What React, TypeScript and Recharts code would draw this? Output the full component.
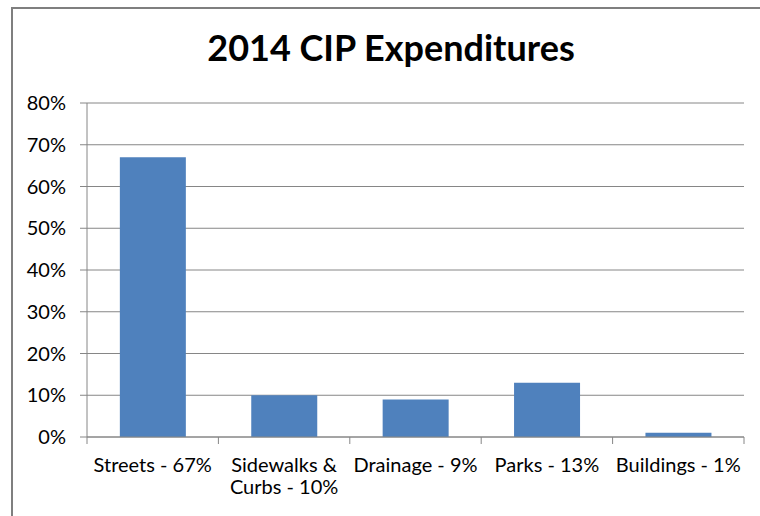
import React from "react";
import { BarChart, Bar, XAxis, YAxis, CartesianGrid } from "recharts";

const categories = [
  "Streets - 67%",
  "Sidewalks & Curbs - 10%",
  "Drainage - 9%",
  "Parks - 13%",
  "Buildings - 1%",
];
const shares = [0.67, 0.1, 0.09, 0.13, 0.01];
const yTicks = [0, 0.1, 0.2, 0.3, 0.4, 0.5, 0.6, 0.7, 0.8];

const data = categories.map((name, i) => ({ name, value: shares[i] }));

const FONT = "Lato, 'Open Sans', sans-serif";
const GRID = "#868686";
const TICK_SIZE = 7;
const TICK_MARGIN = 14;
const LABEL_SIZE = 20;

let ctx: CanvasRenderingContext2D | null = null;
function measure(s: string) {
  if (!ctx) ctx = document.createElement("canvas").getContext("2d");
  if (!ctx) return s.length * LABEL_SIZE * 0.5;
  ctx.font = `${LABEL_SIZE}px ${FONT}`;
  return ctx.measureText(s).width;
}

function wrap(text: string, maxWidth: number) {
  const words = text.split(" ");
  const lines: string[] = [];
  let cur = "";
  for (const w of words) {
    const next = cur ? `${cur} ${w}` : w;
    if (cur && measure(next) > maxWidth) {
      lines.push(cur);
      cur = w;
    } else {
      cur = next;
    }
  }
  if (cur) lines.push(cur);
  return lines;
}

function CategoryTick(props: any) {
  const { x, y, payload, width, visibleTicksCount, index } = props;
  const band = width / visibleTicksCount;
  const axisY = y - TICK_SIZE - TICK_MARGIN;
  const lines = wrap(String(payload.value), band - 4);
  return (
    <g>
      <line x1={x - band / 2} y1={axisY} x2={x - band / 2} y2={axisY + TICK_SIZE} stroke={GRID} />
      {index === visibleTicksCount - 1 && (
        <line x1={x + band / 2} y1={axisY} x2={x + band / 2} y2={axisY + TICK_SIZE} stroke={GRID} />
      )}
      <text x={x} y={y} textAnchor="middle" fontSize={LABEL_SIZE} fontFamily={FONT} fill="#000">
        {lines.map((l, i) => (
          <tspan key={i} x={x} dy={i === 0 ? "0.71em" : "1.1em"}>
            {l}
          </tspan>
        ))}
      </text>
    </g>
  );
}

export default function App() {
  return (
    <div
      style={{
        position: "absolute",
        left: 11,
        top: 7,
        width: 747,
        height: 507,
        borderTop: "2px solid #7f7f7f",
        borderLeft: "2px solid #7f7f7f",
        overflow: "hidden",
        background: "#fff",
      }}
    >
      <div
        style={{
          position: "absolute",
          left: 0,
          top: 20,
          width: 756,
          textAlign: "center",
          fontFamily: FONT,
          fontWeight: 700,
          fontSize: 36,
          lineHeight: "36px",
          color: "#000",
        }}
      >
        2014 CIP Expenditures
      </div>
      <BarChart
        width={747}
        height={507}
        data={data}
        margin={{ top: 94, right: 16, bottom: 19, left: 0 }}
        barCategoryGap="25%"
      >
        <CartesianGrid vertical={false} stroke={GRID} />
        <XAxis
          dataKey="name"
          interval={0}
          height={60}
          axisLine={{ stroke: GRID }}
          tickLine={false}
          tickSize={TICK_SIZE}
          tickMargin={TICK_MARGIN}
          tick={<CategoryTick />}
        />
        <YAxis
          width={74}
          domain={[0, 0.8]}
          ticks={yTicks}
          interval={0}
          tickFormatter={(v: number) => `${Math.round(v * 100)}%`}
          axisLine={{ stroke: GRID }}
          tickLine={{ stroke: GRID }}
          tickSize={7}
          tickMargin={14}
          tick={{ fontSize: 20, fontFamily: FONT, fill: "#000" }}
        />
        <Bar dataKey="value" fill="#4F81BD" isAnimationActive={false} />
      </BarChart>
    </div>
  );
}
